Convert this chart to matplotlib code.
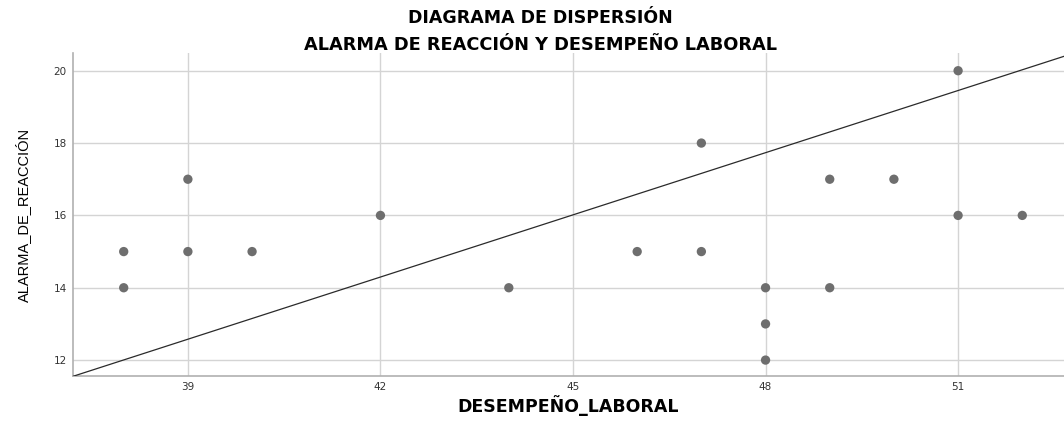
import matplotlib
matplotlib.use("Agg")
import matplotlib.pyplot as plt
import numpy as np

# Data
desempeno = [38, 38, 39, 39, 40, 42, 44, 46, 47, 47, 48, 48, 48, 49, 49, 50, 51, 51, 52]
alarma = [15, 14, 17, 15, 15, 16, 14, 15, 18, 15, 14, 13, 12, 17, 14, 17, 20, 16, 16]
fit_intercept = -9.77
fit_slope = 0.573
x_ticks = [39, 42, 45, 48, 51]
y_ticks = [12, 14, 16, 18, 20]

plt.rcParams['font.family'] = ['DejaVu Sans']

fig = plt.figure(figsize=(10.64, 4.21), dpi=100)
ax = fig.add_axes([73/1064, 1 - 376/421, 1 - 73/1064, (376 - 53)/421])

xlim = (37.21, 52.65)
ylim = (11.56, 20.49)
ax.set_xlim(*xlim)
ax.set_ylim(*ylim)

ax.set_xticks(x_ticks)
ax.set_yticks(y_ticks)
ax.grid(True, color='#d4d4d4', linewidth=1.0)
ax.set_axisbelow(True)
for s in ['top', 'right']:
    ax.spines[s].set_visible(False)
for s in ['left', 'bottom']:
    ax.spines[s].set_color('#b0b0b0')
    ax.spines[s].set_linewidth(1.2)
ax.tick_params(length=0, labelsize=7.5, colors='#333333')
ax.tick_params(axis='x', pad=4.5)
ax.tick_params(axis='y', pad=4.5)

xs = np.array(xlim)
ax.plot(xs, fit_intercept + fit_slope * xs, color='#2a2a2a', linewidth=0.9, zorder=3)

ax.scatter(desempeno, alarma, s=45, color='#6e6e6e', edgecolors='none', zorder=4)

ax.set_xlabel('DESEMPEÑO_LABORAL', fontsize=12.5, fontweight='bold', labelpad=2,
              family=['DejaVu Sans'])
ax.set_ylabel('ALARMA_DE_REACCIÓN', fontsize=10.5, labelpad=16,
              family=['Liberation Sans', 'DejaVu Sans'])

cx = 540 / 1064
fig.text(cx, 1 - 18/421, 'DIAGRAMA DE DISPERSIÓN', ha='center', va='center',
         fontsize=12.5, fontweight='bold')
fig.text(cx, 1 - 45/421, 'ALARMA DE REACCIÓN Y DESEMPEÑO LABORAL', ha='center', va='center',
         fontsize=12.8, fontweight='bold')

fig.savefig('out.png', dpi=100)
